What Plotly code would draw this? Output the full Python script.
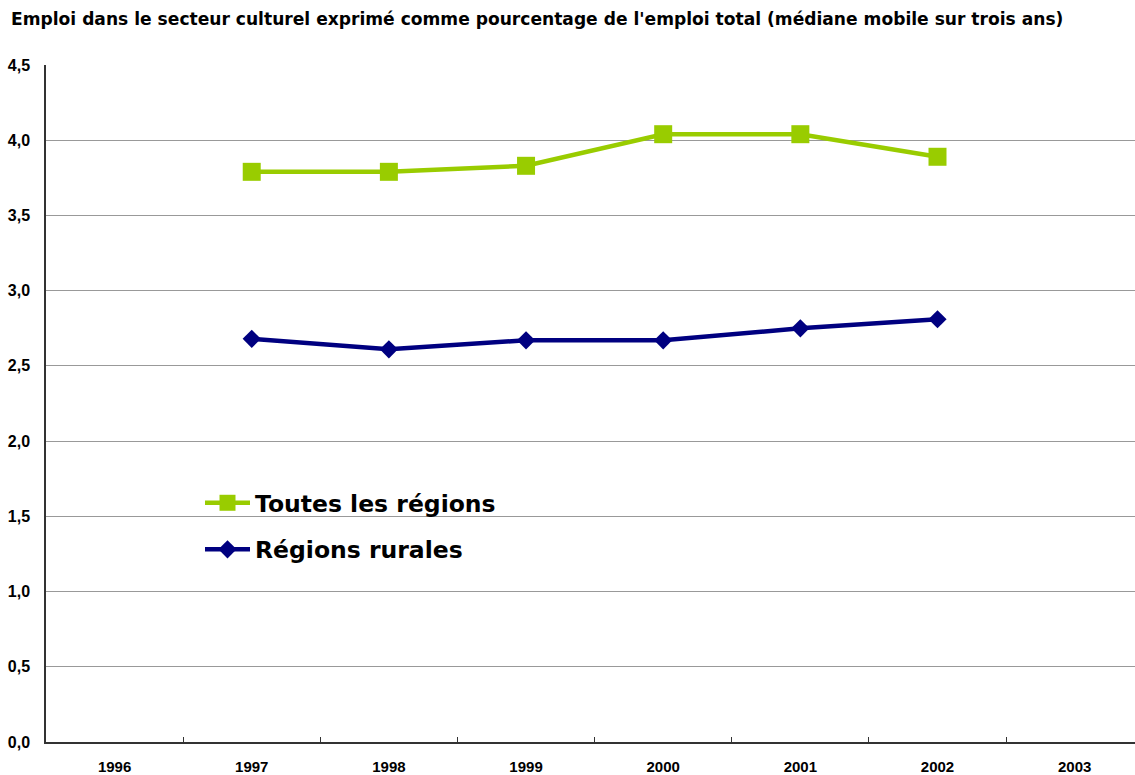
import plotly.graph_objects as go

years = ["1996", "1997", "1998", "1999", "2000", "2001", "2002", "2003"]
toutes_years = ["1997", "1998", "1999", "2000", "2001", "2002"]
toutes_vals = [3.79, 3.79, 3.83, 4.04, 4.04, 3.89]
rurales_years = ["1997", "1998", "1999", "2000", "2001", "2002"]
rurales_vals = [2.68, 2.61, 2.67, 2.67, 2.75, 2.81]

FONT = "Liberation Sans, Arial, sans-serif"
WIDE = "DejaVu Sans, sans-serif"

W, H = 1135, 775
L, R, T, B = 46, 0, 65, 33
PW, PH = W - L - R, H - T - B

fig = go.Figure()
fig.add_trace(go.Scatter(
    x=toutes_years, y=toutes_vals, name="Toutes les régions",
    mode="lines+markers", legendgroup="a",
    line=dict(color="#99CC00", width=4.5),
    marker=dict(symbol="square", size=18, color="#99CC00"),
))
fig.add_trace(go.Scatter(
    x=rurales_years, y=rurales_vals, name="Régions rurales",
    mode="lines+markers", legendgroup="b",
    line=dict(color="#000080", width=4.5),
    marker=dict(symbol="diamond", size=14, color="#000080"),
))

# white background behind the legend area (hides gridline)
fig.add_shape(
    type="rect", xref="paper", yref="paper", layer="between",
    x0=(170 - L) / PW, x1=(523 - L) / PW,
    y0=(H - B - 574) / PH, y1=(H - B - 480) / PH,
    fillcolor="white", line=dict(width=0),
)

fig.update_layout(
    width=W, height=H,
    margin=dict(l=L, r=R, t=T, b=B),
    plot_bgcolor="white", paper_bgcolor="white",
    separators=",.",
    font=dict(family=FONT, color="black"),
    title=dict(
        text="Emploi dans le secteur culturel exprimé comme pourcentage de l'emploi total (médiane mobile sur trois ans)",
        x=11 / W, xanchor="left", xref="container",
        y=1 - 19 / H, yanchor="middle", yref="container",
        font=dict(size=17.1, family=WIDE, weight="bold", color="black"),
    ),
    legend=dict(
        x=(200 - L) / PW, xanchor="left",
        y=(H - B - 481) / PH, yanchor="top",
        bgcolor="rgba(255,255,255,0)", borderwidth=0,
        font=dict(size=23.5, family=WIDE, weight="bold", color="black"),
        tracegroupgap=13,
        itemwidth=45,
    ),
    xaxis=dict(
        type="category", categoryorder="array", categoryarray=years,
        range=[-0.5, 7.44],
        showgrid=False, showline=True, linecolor="#333333", linewidth=1.5,
        ticks="inside", tickson="boundaries", ticklen=5, tickcolor="#333333",
        tickfont=dict(size=15, family=FONT, weight="bold", color="black"),
        ticklabelstandoff=10,
        zeroline=False,
    ),
    yaxis=dict(
        range=[0, 4.5], dtick=0.5, tickformat=".1f",
        showgrid=True, gridcolor="#999999", gridwidth=1,
        showline=True, linecolor="#333333", linewidth=1.5,
        ticks="", zeroline=False,
        tickfont=dict(size=16, family=FONT, weight="bold", color="black"),
        ticklabelstandoff=11,
    ),
)

fig.write_html(
    "out.html",
    config={"displayModeBar": False},
    post_script="document.body.style.margin='0';",
)
